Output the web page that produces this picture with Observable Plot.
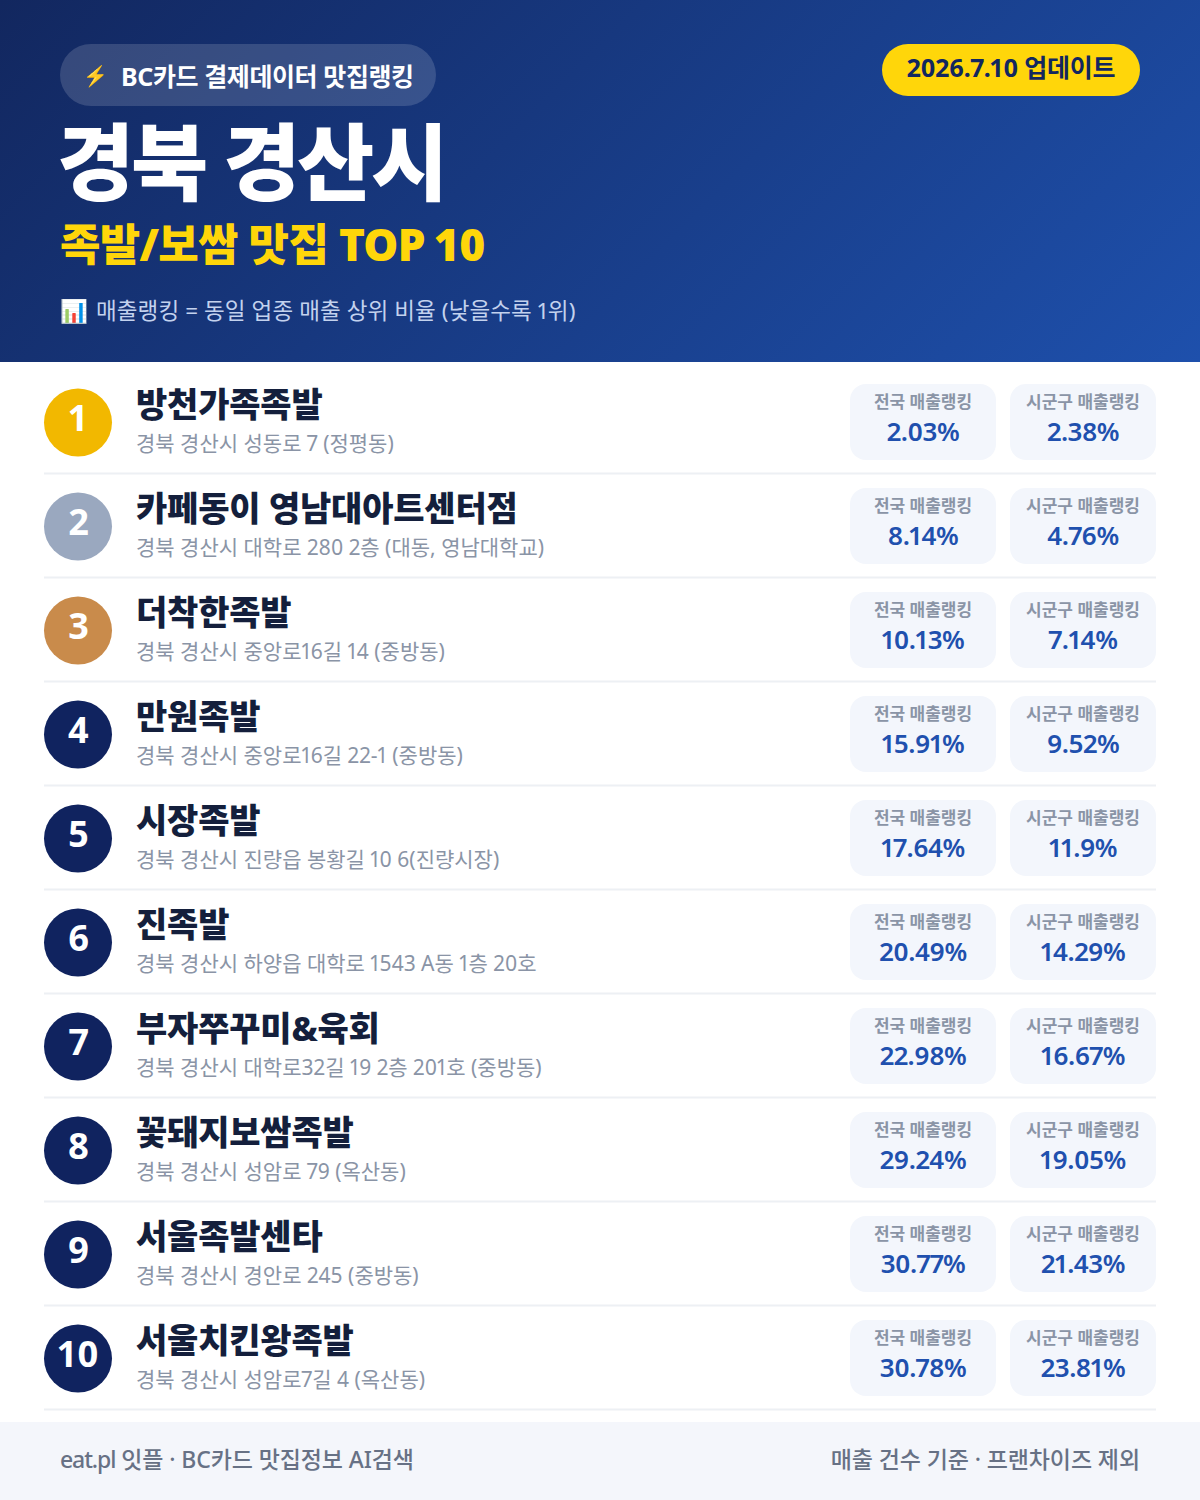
<!DOCTYPE html>
<html lang="ko"><head><meta charset="utf-8">
<script src="https://cdn.jsdelivr.net/npm/d3@7"></script>
<script src="https://cdn.jsdelivr.net/npm/@observablehq/plot@0.6"></script>
<style>
html,body{margin:0;padding:0;background:#fff;width:1200px;font-family:"Noto Sans","Noto Sans CJK KR",sans-serif;font-variant-numeric:proportional-nums}
svg text{font-variant-numeric:proportional-nums}
#page{position:relative;width:1200px;height:1500px;overflow:hidden}
header{position:absolute;left:0;top:0;width:1200px;height:362px;background:linear-gradient(135deg,#12275f 0%,#1e50ac 100%)}
header>div{position:absolute;white-space:nowrap}
header i{font-style:normal;position:absolute}
#badge{left:60px;top:44px;width:376px;height:62px;border-radius:31px;background:rgba(255,255,255,.15);color:#fff;font-size:25px;font-weight:700;line-height:64px;letter-spacing:-.4px}
#badge i{left:23px;font-size:20px}
#badge b{position:absolute;left:61px;font-weight:700}
#date{left:882px;top:44px;width:258px;height:52px;border-radius:26px;background:#ffd60a;color:#12275f;font-size:25px;font-weight:700;line-height:47px;text-align:center;letter-spacing:-.25px}
#title{left:57px;top:104px;font-size:84px;font-weight:900;color:#fff;line-height:116px;letter-spacing:-3.4px}
#sub{left:60px;top:213px;font-size:44px;font-weight:900;color:#ffd60a;line-height:62px;letter-spacing:-.7px}
#note{left:60px;top:293px;height:36px;font-size:22.5px;font-weight:400;color:#c3d2ee;line-height:36px;letter-spacing:.1px}
#note i{left:0}
#note b{position:absolute;left:36px;font-weight:400}
#chart{position:absolute;left:0;top:362px}
footer{position:absolute;left:0;top:1422px;width:1200px;height:78px;background:#f4f6fb;color:#677185;font-size:23px;font-weight:500;line-height:74px;letter-spacing:-.1px}
footer span{position:absolute;white-space:nowrap}
</style></head><body>
<div id="page">
<header>
<div id="badge"><i>⚡</i><b>BC카드 결제데이터 맛집랭킹</b></div>
<div id="date">2026.7.10 업데이트</div>
<div id="title">경북 경산시</div>
<div id="sub">족발/보쌈 맛집 TOP 10</div>
<div id="note"><i>📊</i><b>매출랭킹 = 동일 업종 매출 상위 비율 (낮을수록 1위)</b></div>
</header>
<div id="chart"></div>
<footer><span style="left:60px"><span style="position:static;letter-spacing:-1.1px">eat.pl</span> 잇플 · BC카드 맛집정보 AI검색</span><span style="right:60px">매출 건수 기준 · 프랜차이즈 제외</span></footer>
</div>
<script>
const ranks = [1,2,3,4,5,6,7,8,9,10];
const names = ["방천가족족발","카페동이 영남대아트센터점","더착한족발","만원족발","시장족발","진족발","부자쭈꾸미&육회","꽃돼지보쌈족발","서울족발센타","서울치킨왕족발"];
const addresses = ["경북 경산시 성동로 7 (정평동)","경북 경산시 대학로 280 2층 (대동, 영남대학교)","경북 경산시 중앙로16길 14 (중방동)","경북 경산시 중앙로16길 22-1 (중방동)","경북 경산시 진량읍 봉황길 10 6(진량시장)","경북 경산시 하양읍 대학로 1543 A동 1층 20호","경북 경산시 대학로32길 19 2층 201호 (중방동)","경북 경산시 성암로 79 (옥산동)","경북 경산시 경안로 245 (중방동)","경북 경산시 성암로7길 4 (옥산동)"];
const national = [2.03,8.14,10.13,15.91,17.64,20.49,22.98,29.24,30.77,30.78];
const district = [2.38,4.76,7.14,9.52,11.9,14.29,16.67,19.05,21.43,23.81];
const nationalLabel = "전국 매출랭킹", districtLabel = "시군구 매출랭킹";
const tiers = ["1","2","3","rest"];
const tierColors = ["#f2b800","#9aa8bf","#c98b4b","#10235f"];

const rows = ranks.map((r,i)=>({rank:r,name:names[i],address:addresses[i],national:national[i],district:district[i],tier:r<=3?String(r):"rest"}));
const FONT = '"Noto Sans","Noto Sans CJK KR",sans-serif';
const X = {badge:77.5,text:135.5,c1:[850,996],c2:[1010,1156],lineL:44,lineR:1156};
const mid = a => (a[0]+a[1])/2;
const txt = (text,x,dy,size,weight,fill,anchor="middle",spacing="0") => Plot.text(rows,{x:()=>x,y:"rank",text,dy,fontSize:size,fontWeight:weight,fill,textAnchor:anchor,lineAnchor:"middle",fontFamily:FONT,
  render:(i,s,v,d,c,next)=>{const g=next(i,s,v,d,c);g.style.letterSpacing=spacing;return g;}});
const card = c => Plot.barX(rows,{x1:()=>c[0],x2:()=>c[1],y:"rank",fill:"#f3f6fc",insetTop:14,insetBottom:14,rx:16});

const chart = Plot.plot({
  width:1200,height:1060,margin:0,
  style:{background:"transparent",fontFamily:FONT},
  x:{domain:[0,1200],range:[0,1200],axis:null},
  y:{type:"band",domain:ranks,range:[8,1048],padding:0,axis:null},
  color:{type:"ordinal",domain:tiers,range:tierColors},
  marks:[
    Plot.ruleY(rows,{y:"rank",dy:51,x1:X.lineL,x2:X.lineR,stroke:"#edf0f4",strokeWidth:2}),
    Plot.dot(rows,{x:()=>X.badge,y:"rank",r:34,fill:"tier"}),
    txt(d=>String(d.rank),X.badge+.5,-3,36,700,"#fff"),
    txt("name",X.text,-16,34,800,"#141f3c","start","-.2px"),
    txt("address",X.text,22,21,400,"#8a94a6","start"),
    card(X.c1),card(X.c2),
    txt(()=>nationalLabel,mid(X.c1)-.5,-20,17,700,"#8a94a6"),
    txt(()=>districtLabel,mid(X.c2)-.5,-20,17,700,"#8a94a6"),
    txt(d=>d.national+"%",mid(X.c1)-.5,10,26,600,"#2050ae","middle","-.5px"),
    txt(d=>d.district+"%",mid(X.c2)-.5,10,26,600,"#2050ae","middle","-.5px")
  ]
});
document.getElementById("chart").appendChild(chart);
</script>
</body></html>
